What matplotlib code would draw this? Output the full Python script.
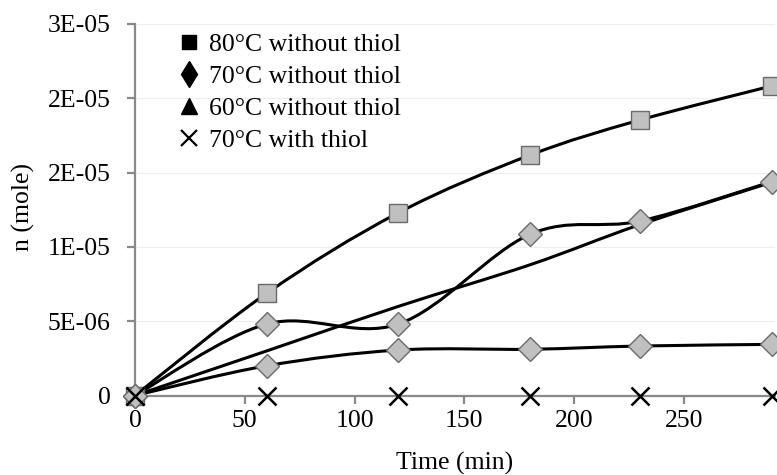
import numpy as np
import matplotlib
matplotlib.use("Agg")
import matplotlib.pyplot as plt
from matplotlib.path import Path
from matplotlib.patches import PathPatch
from matplotlib.lines import Line2D

# ---- data ----
time_min = [0, 60, 120, 180, 230, 290]
n_80_no_thiol = [0, 6.88e-6, 12.3e-6, 16.18e-6, 18.54e-6, 20.83e-6]
n_70_no_thiol = [0, 4.81e-6, 4.81e-6, 10.85e-6, 11.74e-6, 14.39e-6]
n_60_no_thiol = [0, 2.0e-6, 3.06e-6, 3.11e-6, 3.33e-6, 3.44e-6]
n_70_thiol = [0, 0, 0, 0, 0, 0]
n_trend = [0, 3.0e-6, 6.0e-6, 8.8e-6, 11.5e-6, 14.35e-6]

legend_labels = ["80°C without thiol", "70°C without thiol",
                 "60°C without thiol", "70°C with thiol"]
y_ticks = [0, 5e-6, 10e-6, 15e-6, 20e-6, 25e-6]
y_tick_labels = ["0", "5E-06", "1E-05", "2E-05", "2E-05", "3E-05"]
x_ticks = [0, 50, 100, 150, 200, 250]

FS = 18.5
plt.rcParams['font.family'] = ['Liberation Serif', 'DejaVu Serif']

fig = plt.figure(figsize=(7.77, 4.75), dpi=100)
ax = fig.add_axes([135/777, (475-395.5)/475, 640/777, 371.5/475])


def smooth_path(x, y):
    pts = np.column_stack([x, y]).astype(float)
    n = len(pts)
    verts = [pts[0]]
    codes = [Path.MOVETO]
    for i in range(n - 1):
        p0 = pts[i - 1] if i > 0 else pts[i]
        p1 = pts[i]
        p2 = pts[i + 1]
        p3 = pts[i + 2] if i + 2 < n else pts[i + 1]
        c1 = p1 + (p2 - p0) / 6.0
        c2 = p2 - (p3 - p1) / 6.0
        verts += [c1, c2, p2]
        codes += [Path.CURVE4] * 3
    return Path(verts, codes)


line_kw = dict(facecolor='none', edgecolor='black', linewidth=2.2, zorder=3)
for ys in [n_80_no_thiol, n_70_no_thiol, n_60_no_thiol, n_trend]:
    ax.add_patch(PathPatch(smooth_path(time_min, ys), **line_kw))

mk = dict(linestyle='none', markerfacecolor='#c0c0c0', markeredgecolor='#6a6a6a',
          markeredgewidth=1.0, clip_on=False, zorder=4)
ax.plot(time_min, n_80_no_thiol, marker='s', markersize=13, **mk)
ax.plot(time_min, n_70_no_thiol, marker='D', markersize=12, **mk)
ax.plot(time_min, n_60_no_thiol, marker='D', markersize=12, **mk)
ax.plot(time_min, n_70_thiol, linestyle='none', marker='x', markersize=13,
        markeredgewidth=1.8, color='black', clip_on=False, zorder=5)

ax.set_xlim(0, 291.5)
ax.set_ylim(0, 25e-6)
ax.set_yticks(y_ticks)
ax.set_yticklabels(y_tick_labels)
ax.set_xticks(x_ticks)

for y in y_ticks[1:]:
    ax.axhline(y, color='#eeeeee', linewidth=0.8, zorder=0)

for s in ['top', 'right']:
    ax.spines[s].set_visible(False)
for s in ['left', 'bottom']:
    ax.spines[s].set_color('#898989')
    ax.spines[s].set_linewidth(1.6)
    ax.spines[s].set_zorder(2)

ax.tick_params(axis='both', colors='#898989', width=1.6, length=5.5,
               labelcolor='black', labelsize=FS, direction='out')
ax.tick_params(axis='y', pad=12)
ax.tick_params(axis='x', pad=5)

ax.set_xlabel("Time (min)", fontsize=FS)
ax.set_ylabel("n (mole)", fontsize=FS)
ax.xaxis.set_label_coords((455-135)/640, (395.5-463)/371.5)
ax.yaxis.set_label_coords((23-135)/640, (395.5-207)/371.5)
ax.xaxis.label.set_va('center')
ax.yaxis.label.set_va('center')

handles = [
    Line2D([], [], linestyle='none', marker='s', color='black', markersize=9.5),
    Line2D([], [], linestyle='none', marker='d', color='black', markersize=13),
    Line2D([], [], linestyle='none', marker='^', color='black', markersize=11),
    Line2D([], [], linestyle='none', marker='x', color='black', markersize=11,
           markeredgewidth=1.6),
]
leg = fig.legend(handles, legend_labels, loc='upper left',
                 bbox_to_anchor=(179/777, 1 - 33/475), frameon=False,
                 fontsize=FS, handlelength=0.8, handletextpad=0.36,
                 labelspacing=0.35, borderaxespad=0, borderpad=0)

fig.savefig("out.png", dpi=100)
